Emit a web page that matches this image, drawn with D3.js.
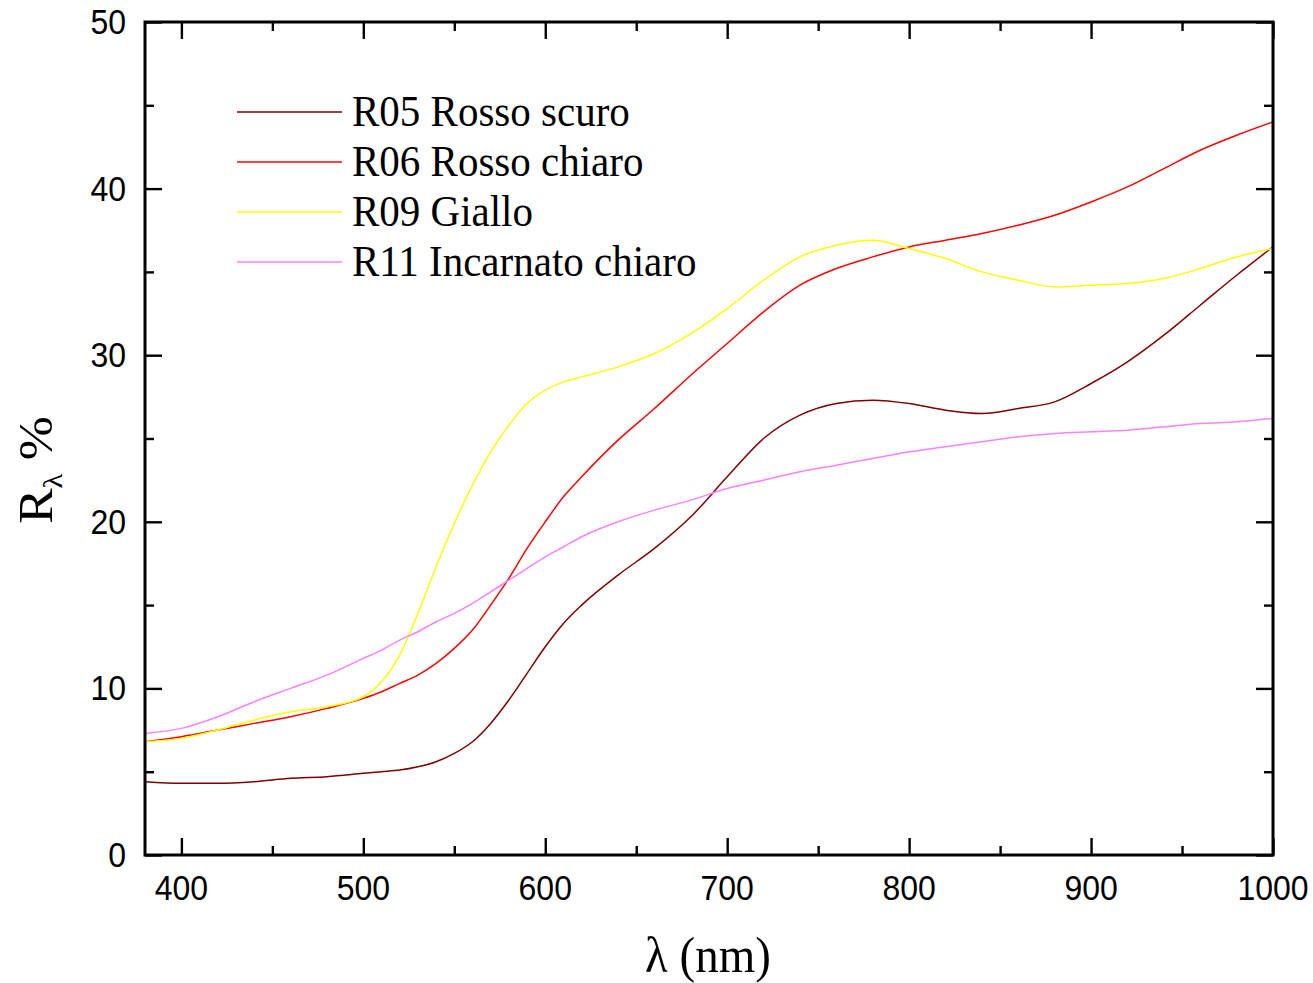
<!DOCTYPE html>
<html lang="en">
<head>
<meta charset="utf-8">
<title>Reflectance spectra</title>
<script src="https://d3js.org/d3.v7.min.js" charset="utf-8"></script>
<style>
  body { margin: 0; background: #fff; }
  svg { display: block; }
  .tick-label { font-family: "Liberation Sans", Arial, sans-serif; font-size: 32px; fill: #000; }
  .serif { font-family: "Liberation Serif", "Times New Roman", serif; fill: #000; }
</style>
</head>
<body>
<div id="vis-container"></div>
<script>
var wavelengths = [380, 400, 420, 440, 460, 480, 500, 510, 520, 530, 540, 550, 560, 570, 580, 590,
                   600, 610, 620, 640, 660, 680, 700, 720, 740, 760, 780, 800, 820, 840, 860, 880,
                   900, 920, 940, 960, 980, 1000];

// reflectance R (%) for each sample
var r05 = [4.4, 4.3, 4.3, 4.4, 4.6, 4.7, 4.9, 5.0, 5.1, 5.3, 5.6, 6.1, 6.8, 7.9, 9.3, 10.9,
           12.5, 13.9, 15.0, 16.8, 18.4, 20.3, 22.7, 25.0, 26.4, 27.1, 27.3, 27.1, 26.7, 26.5, 26.8, 27.2,
           28.3, 29.6, 31.2, 33.0, 34.8, 36.5];
var r06 = [6.8, 7.1, 7.5, 7.9, 8.3, 8.8, 9.4, 9.8, 10.3, 10.8, 11.5, 12.4, 13.5, 15.0, 16.6, 18.4,
           20.0, 21.5, 22.7, 24.9, 26.8, 28.8, 30.7, 32.6, 34.2, 35.2, 35.9, 36.5, 36.9, 37.3, 37.8, 38.4,
           39.2, 40.1, 41.2, 42.3, 43.2, 44.0];
var r09 = [6.8, 7.0, 7.5, 8.1, 8.6, 8.9, 9.5, 10.4, 12.0, 14.5, 17.3, 19.9, 22.2, 24.2, 25.8, 27.1,
           27.9, 28.4, 28.7, 29.3, 30.1, 31.3, 32.8, 34.5, 35.9, 36.6, 36.9, 36.4, 35.8, 35.0, 34.5, 34.1,
           34.2, 34.3, 34.6, 35.2, 35.9, 36.4];
var r11 = [7.3, 7.6, 8.3, 9.2, 10.0, 10.8, 11.8, 12.3, 12.9, 13.4, 14.0, 14.5, 15.1, 15.8, 16.5, 17.2,
           17.9, 18.5, 19.1, 20.0, 20.7, 21.3, 22.0, 22.5, 23.0, 23.4, 23.8, 24.2, 24.5, 24.8, 25.1, 25.3,
           25.4, 25.5, 25.7, 25.9, 26.0, 26.2];

var seriesNames  = ["R05 Rosso scuro", "R06 Rosso chiaro", "R09 Giallo", "R11 Incarnato chiaro"];
var seriesValues = [r05, r06, r09, r11];
var seriesColors = ["#800000", "#ff0000", "#ffff00", "#ff80ff"];

var xMajor = [400, 500, 600, 700, 800, 900, 1000];
var xMinor = [450, 550, 650, 750, 850, 950];
var yMajor = [0, 10, 20, 30, 40, 50];
var yMinor = [5, 15, 25, 35, 45];

var W = 1313, H = 983;
var margin = { top: 22, right: 40, bottom: 128, left: 145 };
var width  = W - margin.left - margin.right,
    height = H - margin.top - margin.bottom;
var stretch = 1.1;   // glyphs in the picture are a bit taller than wide

var svg = d3.select("#vis-container").append("svg")
    .attr("width", W)
    .attr("height", H);
svg.append("rect").attr("width", W).attr("height", H).attr("fill", "#fff");

var canvas = svg.append("g")
    .attr("transform", "translate(" + margin.left + "," + margin.top + ")");

var xScale = d3.scaleLinear().domain([380, 1000]).range([0, width]);
var yScale = d3.scaleLinear().domain([0, 50]).range([height, 0]);

// curves
var line = d3.line()
    .x(function(d) { return xScale(d[0]); })
    .y(function(d) { return yScale(d[1]); })
    .curve(d3.curveMonotoneX);

seriesValues.forEach(function(vals, i) {
    var pts = wavelengths.map(function(w, k) { return [w, vals[k]]; });
    canvas.append("path")
        .datum(pts)
        .attr("fill", "none")
        .attr("stroke", seriesColors[i])
        .attr("stroke-width", 1.5)
        .attr("d", line);
});

// inward ticks on all four sides
function tickAxis(axisFn, scale, values, len, transform) {
    var g = canvas.append("g")
        .attr("transform", transform)
        .call(axisFn(scale).tickValues(values).tickSize(-len).tickSizeOuter(0).tickFormat(""));
    g.select(".domain").remove();
    g.selectAll("line").attr("stroke", "#000").attr("stroke-width", 2.4);
}
tickAxis(d3.axisBottom, xScale, xMajor, 17, "translate(0," + height + ")");
tickAxis(d3.axisBottom, xScale, xMinor, 9,  "translate(0," + height + ")");
tickAxis(d3.axisTop,    xScale, xMajor, 17, "translate(0,0)");
tickAxis(d3.axisTop,    xScale, xMinor, 9,  "translate(0,0)");
tickAxis(d3.axisLeft,   yScale, yMajor, 17, "translate(0,0)");
tickAxis(d3.axisLeft,   yScale, yMinor, 9,  "translate(0,0)");
tickAxis(d3.axisRight,  yScale, yMajor, 17, "translate(" + width + ",0)");
tickAxis(d3.axisRight,  yScale, yMinor, 9,  "translate(" + width + ",0)");

// frame
canvas.append("rect")
    .attr("width", width).attr("height", height)
    .attr("fill", "none").attr("stroke", "#000").attr("stroke-width", 3);

// tick labels
canvas.selectAll(".xlab").data(xMajor).enter().append("text")
    .attr("class", "tick-label")
    .attr("text-anchor", "middle")
    .attr("transform", function(d) { return "translate(" + xScale(d) + "," + (height + 45) + ") scale(1," + stretch + ")"; })
    .text(function(d) { return d; });

canvas.selectAll(".ylab").data(yMajor).enter().append("text")
    .attr("class", "tick-label")
    .attr("text-anchor", "end")
    .attr("transform", function(d) { return "translate(-19," + (yScale(d) + 12) + ") scale(1," + stretch + ")"; })
    .text(function(d) { return d; });

// legend
var legend = svg.append("g");
seriesNames.forEach(function(name, i) {
    var y = 112 + i * 50;
    legend.append("line")
        .attr("x1", 237).attr("x2", 342)
        .attr("y1", y).attr("y2", y)
        .attr("stroke", seriesColors[i]).attr("stroke-width", 1.5);
    legend.append("text")
        .attr("class", "serif")
        .style("font-size", "41px")
        .attr("transform", "translate(352," + (y + 14) + ") scale(1," + stretch + ")")
        .text(name);
});

// axis titles
svg.append("text")
    .attr("class", "serif")
    .style("font-size", "47px")
    .attr("text-anchor", "middle")
    .attr("transform", "translate(708,972) scale(1," + stretch + ")")
    .text("λ (nm)");

var yTitle = svg.append("text")
    .attr("class", "serif")
    .style("font-size", "48px")
    .attr("text-anchor", "middle")
    .attr("transform", "translate(52,470) rotate(-90) scale(" + stretch + ",1)");
yTitle.append("tspan").text("R");
yTitle.append("tspan").attr("dy", 10).style("font-size", "28px").text("λ");
yTitle.append("tspan").attr("dy", -10).text(" %");
</script>
</body>
</html>
